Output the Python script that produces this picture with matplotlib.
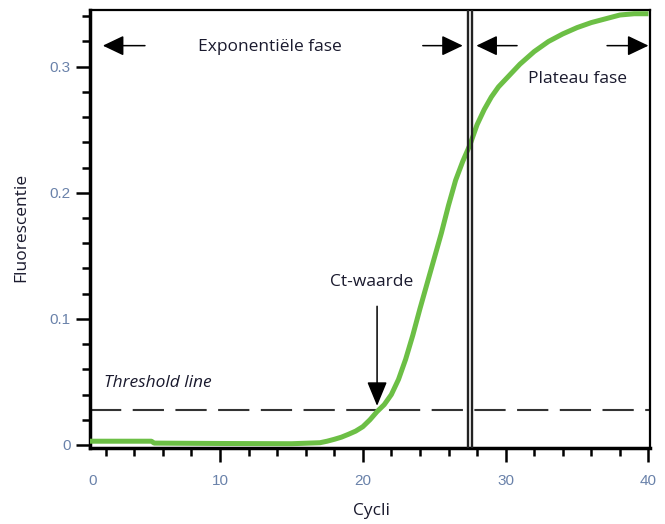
import matplotlib
matplotlib.use("Agg")
import matplotlib.pyplot as plt
from matplotlib.ticker import MultipleLocator, FixedLocator

# qPCR amplificatiecurve
cycli = [0.9, 5.2, 5.4, 10, 15, 17, 17.5, 18, 18.5, 19, 19.5, 20, 20.5, 21, 21.5,
         22, 22.5, 23, 23.5, 24, 24.5, 25, 25.5, 26, 26.5, 27, 27.5, 28, 28.5,
         29, 29.5, 30, 30.5, 31, 32, 33, 34, 35, 36, 37, 38, 39, 40]
fluorescentie = [0.0030, 0.0030, 0.0015, 0.0012, 0.0010, 0.0018, 0.0030, 0.0045,
                 0.0062, 0.0085, 0.0110, 0.0145, 0.0200, 0.0265, 0.0320,
                 0.040, 0.052, 0.068, 0.087, 0.108, 0.128, 0.148, 0.168, 0.190,
                 0.210, 0.225, 0.238, 0.254, 0.266, 0.276, 0.284, 0.290, 0.296,
                 0.302, 0.312, 0.320, 0.326, 0.331, 0.335, 0.338, 0.341, 0.342,
                 0.342]

threshold = 0.0278
ct_waarde = 21.0
grens_exp = 27.38      # einde exponentiele fase
grens_plateau = 27.62  # begin plateau fase

x_ticks = [10, 20, 30, 40]
y_ticks = [0, 0.1, 0.2, 0.3]

tekstfont = "Open Sans"
tekstkleur = "#1a1a2e"
tickkleur = "#6a82aa"

fig = plt.figure(figsize=(6.65, 5.24), dpi=100)
ax = fig.add_axes([0.1353, 0.145, 0.842, 0.836])

ax.plot(cycli, fluorescentie, color="#6cbf45", linewidth=3.6, solid_capstyle="butt", zorder=3)

# threshold lijn
ax.axhline(threshold, color="#333333", linewidth=1.5, dashes=(15, 5.5), zorder=2)

# fase grenzen
ax.axvline(grens_exp, color="#222222", linewidth=1.7, zorder=4)
ax.axvline(grens_plateau, color="#222222", linewidth=1.7, zorder=4)

ax.set_xlim(0.9, 40.1)
ax.set_ylim(-0.0024, 0.345)

# pijlen
pijl = dict(arrowstyle="-|>,head_length=1.3,head_width=0.62", color="black",
            linewidth=1.1, shrinkA=0, shrinkB=0)
y_pijl = 0.3167
for start, eind in [(4.75, 1.8), (24.2, 27.0), (30.8, 27.95), (37.1, 40.0)]:
    ax.annotate("", xy=(eind, y_pijl), xytext=(start, y_pijl), arrowprops=pijl, zorder=5)

ax.annotate("", xy=(ct_waarde, 0.031), xytext=(ct_waarde, 0.110),
            arrowprops=dict(arrowstyle="-|>,head_length=1.5,head_width=0.62", color="black",
                            linewidth=1.1, shrinkA=0, shrinkB=0), zorder=5)

ax.text(13.5, 0.316, "Exponentiële fase", fontsize=12.5, family=tekstfont,
        color=tekstkleur, ha="center", va="center")
ax.text(35.0, 0.290, "Plateau fase", fontsize=12.5, family=tekstfont,
        color=tekstkleur, ha="center", va="center")
ax.text(20.6, 0.129, "Ct-waarde", fontsize=12.5, family=tekstfont,
        color=tekstkleur, ha="center", va="center")
ax.text(1.85, 0.049, "Threshold line", fontsize=12.5, family=tekstfont, style="italic",
        color=tekstkleur, ha="left", va="center")

# assen
for kant in ["top", "right"]:
    ax.spines[kant].set_linewidth(1.6)
for kant in ["left", "bottom"]:
    ax.spines[kant].set_linewidth(2.5)

ax.xaxis.set_major_locator(FixedLocator([1.1] + x_ticks))
ax.set_xticklabels(["0"] + [str(t) for t in x_ticks])
ax.xaxis.set_minor_locator(FixedLocator([2, 4, 6, 8, 12, 14, 16, 18, 22, 24, 26, 28,
                                         32, 34, 36, 38]))
ax.yaxis.set_major_locator(FixedLocator(y_ticks))
ax.set_yticklabels(["0", "0.1", "0.2", "0.3"])
ax.yaxis.set_minor_locator(MultipleLocator(0.02))

ax.tick_params(which="major", length=10, width=1.8, color="black", labelsize=11,
               labelcolor=tickkleur)
ax.tick_params(which="minor", length=6, width=1.8, color="black")
ax.tick_params(axis="x", which="major", pad=9)
ax.tick_params(axis="y", which="major", pad=4)
ax.xaxis.get_major_ticks()[0].tick1line.set_visible(False)
for lab in ax.get_xticklabels() + ax.get_yticklabels():
    lab.set_family("Liberation Sans")

fig.text(372 / 665, 1 - 511 / 524, "Cycli", fontsize=12.5, family=tekstfont,
         color=tekstkleur, ha="center", va="center")
fig.text(21 / 665, 1 - 227 / 524, "Fluorescentie", fontsize=12.5, family=tekstfont,
         color=tekstkleur, ha="center", va="center", rotation=90)

fig.savefig("out.png", dpi=100)
